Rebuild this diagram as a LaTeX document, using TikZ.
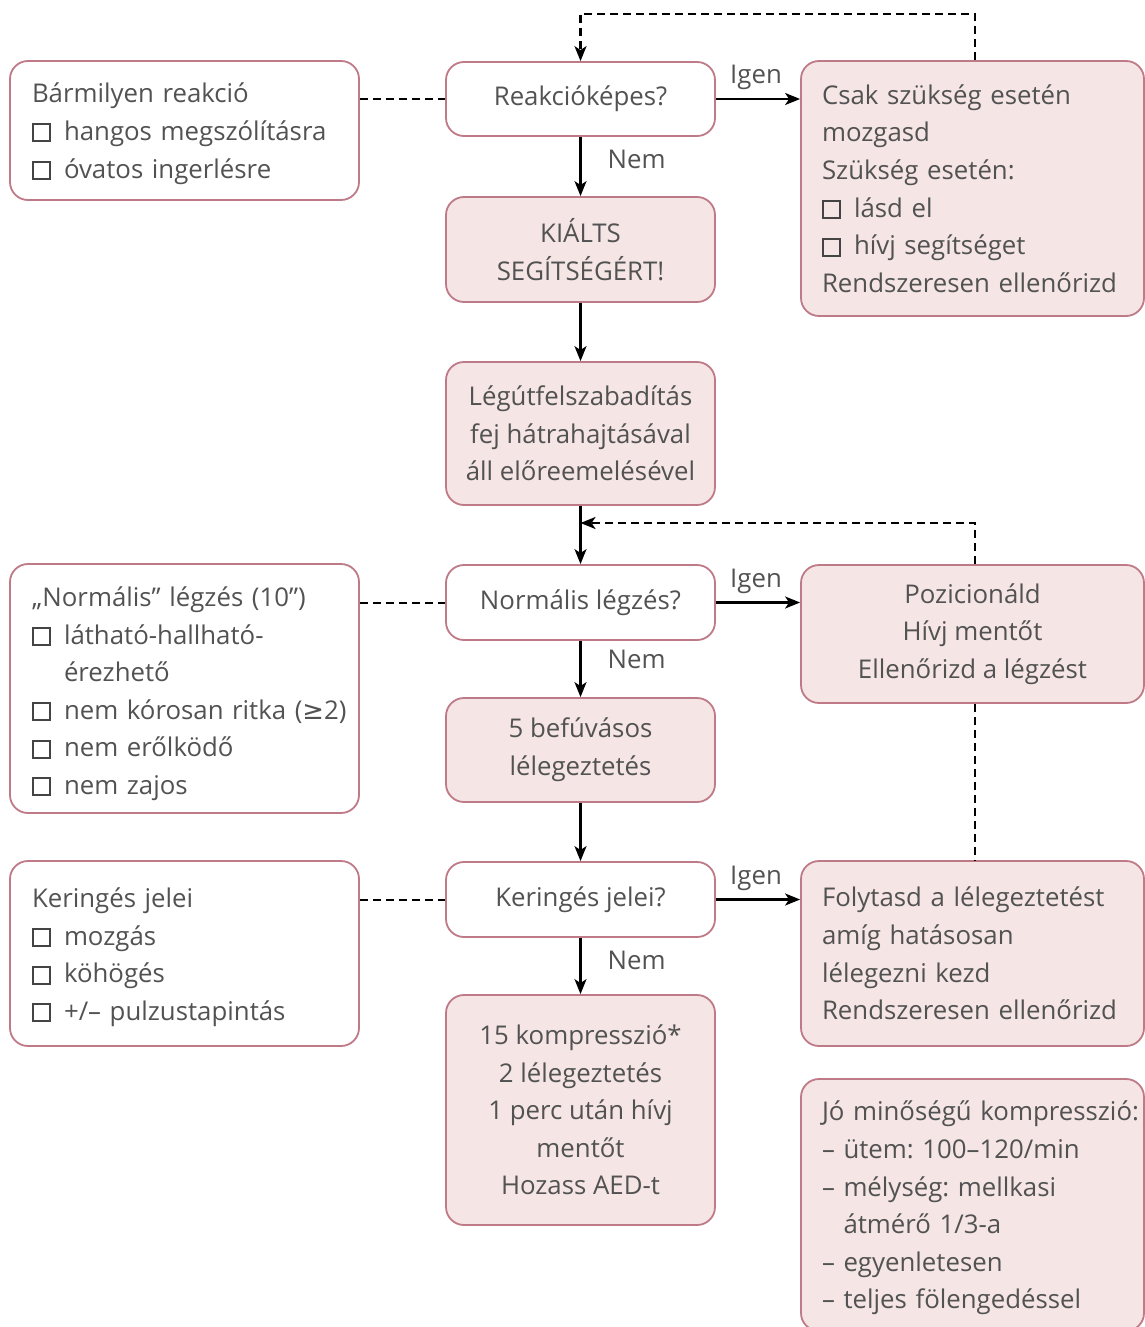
\documentclass[tikz,border=0pt]{standalone}
\usepackage{fontspec}
\setmainfont{Open Sans}
\newfontfamily\symfont{DejaVu Sans}
\usetikzlibrary{arrows.meta,calc}
\definecolor{txt}{HTML}{525252}
\definecolor{bord}{HTML}{BF7A88}
\definecolor{fillp}{HTML}{F5E5E5}
\frenchspacing
\hbadness=10000 \hfuzz=200pt
\newcommand\cbx{{\setlength{\fboxrule}{2pt}\setlength{\fboxsep}{0pt}\color[HTML]{444444}\framebox[19pt]{\rule{0pt}{15pt}}}\hspace{13pt}}
\newcommand\lne[1]{\mbox{#1}}
\begin{document}
\begin{tikzpicture}[x=1pt,y=-1pt,
  font=\fontsize{25.8pt}{37.6pt}\selectfont,
  box/.style={draw=bord, line width=1.8pt, rounded corners=18pt, text=txt, inner sep=0pt},
  pbox/.style={box, fill=fillp},
  lbl/.style={text=txt, inner sep=0pt},
  arr/.style={line width=2.2pt, -{Stealth[length=15pt,width=12pt,inset=4pt]}},
  dsh/.style={line width=2pt, dash pattern=on 8pt off 5pt}]
\useasboundingbox (0,0) rectangle (1145,1327);

% left boxes
\node[box, minimum width=349pt, minimum height=139pt, text width=305pt, align=left] (l1) at (184.5,130.5)
  {\lne{\rule{0pt}{26pt}Bármilyen reakció}\\\lne{\cbx hangos megszólításra}\\\lne{\cbx óvatos ingerlésre}};
\node[box, minimum width=349pt, minimum height=249pt, text width=305pt, align=left] (l2) at (184.5,688.5)
  {\lne{\rule{0pt}{30pt}„Normális” légzés (10”)}\\\lne{\cbx látható-hallható-}\\\lne{\hphantom{\cbx}érezhető}\\\lne{\cbx nem kórosan ritka ({\symfont ≥}2)}\\\lne{\cbx nem erőlködő}\\\lne{\cbx nem zajos}};
\node[box, minimum width=349pt, minimum height=185pt, text width=305pt, align=left] (l3) at (184.5,953.5)
  {\lne{\rule{0pt}{27pt}Keringés jelei}\\\lne{\cbx mozgás}\\\lne{\cbx köhögés}\\\lne{\cbx +/– pulzustapintás}};

% center column
\node[box, minimum width=269pt, minimum height=74pt, align=center] (q1) at (580.5,99) {Reakcióképes?};
\node[pbox, minimum width=269pt, minimum height=105pt, align=center] (b1) at (580.5,249.5) {KIÁLTS\\SEGÍTSÉGÉRT!};
\node[pbox, minimum width=269pt, minimum height=143pt, align=center] (b2) at (580.5,433.5) {Légútfelszabadítás\\fej hátrahajtásával\\áll előreemelésével};
\node[box, minimum width=269pt, minimum height=75pt, align=center] (q2) at (580.5,602.5) {Normális légzés?};
\node[pbox, minimum width=269pt, minimum height=104pt, align=center] (b3) at (580.5,750) {5 befúvásos\\lélegeztetés};
\node[box, minimum width=269pt, minimum height=75pt, align=center] (q3) at (580.5,899.5) {Keringés jelei?};
\node[pbox, minimum width=269pt, minimum height=230pt, align=center] (b4) at (580.5,1110) {15 kompresszió*\\2 lélegeztetés\\1 perc után hívj\\mentőt\\Hozass AED-t};

% right column
\node[pbox, minimum width=343pt, minimum height=255pt, text width=301pt, align=left] (r1) at (972.5,188.5)
  {\lne{Csak szükség esetén}\\\lne{mozgasd}\\\lne{Szükség esetén:}\\\lne{\cbx lásd el}\\\lne{\cbx hívj segítséget}\\\lne{Rendszeresen ellenőrizd}};
\node[pbox, minimum width=343pt, minimum height=138pt, align=center] (r2) at (972.5,634)
  {Pozicionáld\\Hívj mentőt\\Ellenőrizd a légzést};
\node[pbox, minimum width=343pt, minimum height=185pt, text width=301pt, align=left] (r3) at (972.5,953.5)
  {\lne{Folytasd a lélegeztetést}\\\lne{amíg hatásosan}\\\lne{lélegezni kezd}\\\lne{Rendszeresen ellenőrizd}};
\node[pbox, minimum width=343pt, minimum height=252pt, text width=301pt, align=left] (r4) at (972.5,1205)
  {\lne{\rule{0pt}{26pt}Jó minőségű kompresszió:}\\\lne{– ütem: 100–120/min}\\\lne{– mélység: mellkasi}\\\lne{\hphantom{– }átmérő 1/3-a}\\\lne{– egyenletesen}\\\lne{– teljes fölengedéssel}};

% dashed links from left boxes
\draw[dsh] (l1.east |- q1.west) -- (q1.west);
\draw[dsh] (l2.east |- q2.west) -- (q2.west);
\draw[dsh] (l3.east |- q3.west) -- (q3.west);

% main flow
\draw[arr] (q1.east) -- node[lbl, anchor=south, yshift=8pt, xshift=-2pt] {Igen} (q1.east -| r1.west);
\draw[arr] (q1.south) -- node[lbl, anchor=west, pos=0.38, xshift=26pt] {Nem} (b1.north);
\draw[arr] (b1.south) -- (b2.north);
\draw[arr] (b2.south) -- (q2.north);
\draw[arr] (q2.east) -- node[lbl, anchor=south, yshift=8pt, xshift=-2pt] {Igen} (q2.east -| r2.west);
\draw[arr] (q2.south) -- node[lbl, anchor=west, pos=0.33, xshift=26pt] {Nem} (b3.north);
\draw[arr] (b3.south) -- (q3.north);
\draw[arr] (q3.east) -- node[lbl, anchor=south, yshift=8pt, xshift=-2pt] {Igen} (q3.east -| r3.west);
\draw[arr] (q3.south) -- node[lbl, anchor=west, pos=0.4, xshift=26pt] {Nem} (b4.north);

% dashed loops
\coordinate (m1) at (975,14);
\coordinate (m2) at (580.5,523);
\draw[dsh, arr] (r1.north -| m1) -- (m1) -| (q1.north);
\draw[dsh, arr] (r2.north -| m1) |- (m2);
\draw[dsh] (r2.south -| m1) -- (r3.north -| m1);
\end{tikzpicture}
\end{document}
